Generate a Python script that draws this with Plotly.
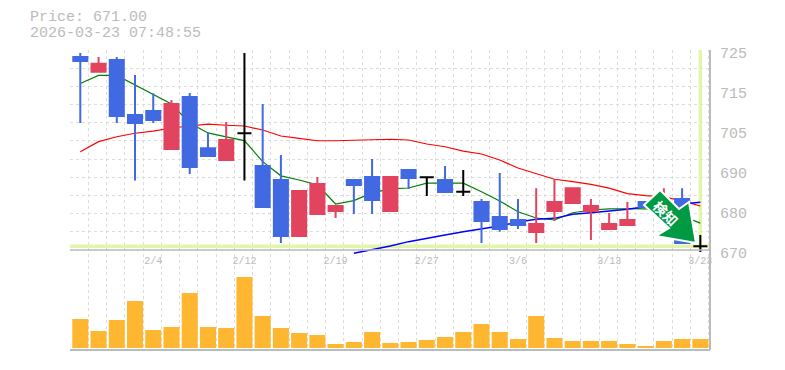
import plotly.graph_objects as go

# --- data ---
price_label = "Price: 671.00"
time_label = "2026-03-23 07:48:55"
arrow_label = "検知"
idx = list(range(35))
opens = [723.1,719.0,722.25,707.1,708.2,697.8,712.1,698.0,694.75,702.1,693.1,689.25,673.85,679.9,680.7,689.25,690.1,680.7,692.0,690.0,689.25,686.0,683.2,679.1,678.25,674.95,680.7,682.9,680.7,675.8,676.9,683.2,680.7,684.0,671.0]
highs = [724.2,723.1,723.1,718.1,713.1,711.25,713.2,702.2,705.2,724.2,710.15,696.1,686.2,690.1,682.1,689.25,695.0,690.1,692.0,690.0,693.1,692.0,684.0,691.2,684.0,687.0,689.5,687.0,684.0,680.2,683.2,683.2,687.0,687.0,674.1]
lows = [704.9,719.0,704.9,689.1,704.9,697.8,690.9,695.85,694.75,689.1,681.8,671.9,673.85,679.9,678.8,679.9,679.9,680.7,686.8,684.85,685.95,684.85,671.9,675.0,675.8,671.9,678.0,682.9,672.75,675.8,676.9,681.8,680.7,671.9,669.45]
closes = [722.0,721.2,706.85,704.9,705.75,710.15,692.8,695.85,700.25,702.1,681.8,673.85,686.2,688.15,682.1,687.9,683.75,690.1,689.8,690.0,685.95,686.0,678.0,675.8,676.9,677.15,683.2,687.0,682.1,677.15,678.25,681.8,683.0,671.9,671.0]
ma_short = [715.8,718,718,715.4,712.6,710.15,704.9,702.2,701.1,700.1,694.3,690.4,689.25,687.9,682.65,683.6,685.7,686.8,687.05,688.4,688.4,688.4,686,683.5,680.5,678.8,678.25,680.25,681,681.3,681.35,681.3,681,679.35,677.4]
ma_mid = [697,699.8,701.15,702.1,702.7,703.55,704.1,704.6,704.3,704.1,703,701.35,700.7,700.05,700.05,700.25,700.25,700.45,700.25,699.15,698.4,697.2,696.4,694.75,692.55,690.9,689.45,688.8,688.05,687,685.5,684.95,684.6,683.5,682.1]
ma_long = [None]*15 + [669.1,670,671.1,672.3,673.3,674.1,675,675.85,676.6,677.7,678.45,678.7,679.8,680.25,680.7,681.2,681.9,682.4,682.65,683.1]
volumes = [29,17,28,47,18,21,55,21,20,71,32,20,15,13,4,6,16,5,6,8,11,16,24,16,9,32,10,7,7,7,4,2,7,9,9]
date_pos = [4,9,14,19,24,29,34]
date_text = ["2/4","2/12","2/19","2/27","3/6","3/13","3/23"]
price_ticks = [670,681,692,703,714,725]
price_text = ["670","680","690","705","715","725"]
last_price = 671
grid_prices = list(range(670,730,5))
grid_slots = [i-0.55 for i in range(36)]

# --- style ---
BLUE="#4169E1"; RED="#E2435F"; AMBER="#FFB732"; PALE="#E2F6A9"; GRID="#dddddd"; TXT="#bbbbbb"
MONO="Liberation Mono"

fig = go.Figure()
xr = [-0.565, 34.53]

fig.add_trace(go.Scatter(x=[xr[0],xr[1]],y=[last_price,last_price],mode="lines",line=dict(color=PALE,width=3.5),hoverinfo="skip",zorder=-2))
fig.add_trace(go.Scatter(x=[idx[-1],idx[-1]],y=[last_price-1.1,725],mode="lines",line=dict(color=PALE,width=3.5),hoverinfo="skip",zorder=-2))
fig.add_trace(go.Scatter(x=idx,y=ma_mid,mode="lines",line=dict(color="#ff0000",width=1.2),zorder=-1))
fig.add_trace(go.Scatter(x=idx,y=ma_short,mode="lines",line=dict(color="#008000",width=1.2),zorder=-1))
fig.add_trace(go.Scatter(x=idx,y=ma_long,mode="lines",line=dict(color="#0000ff",width=1.5),zorder=-1))

normal=[i for i in idx if opens[i]!=closes[i]]
doji=[i for i in idx if opens[i]==closes[i]]
fig.add_trace(go.Candlestick(x=normal,open=[opens[i] for i in normal],high=[highs[i] for i in normal],low=[lows[i] for i in normal],close=[closes[i] for i in normal],
    increasing=dict(line=dict(color=RED,width=2),fillcolor=RED),decreasing=dict(line=dict(color=BLUE,width=2),fillcolor=BLUE),whiskerwidth=0))
fig.add_trace(go.Candlestick(x=doji,open=[opens[i] for i in doji],high=[highs[i] for i in doji],low=[lows[i] for i in doji],close=[closes[i] for i in doji],
    increasing=dict(line=dict(color="#000000",width=2),fillcolor="#000000"),decreasing=dict(line=dict(color="#000000",width=2),fillcolor="#000000"),whiskerwidth=0))
fig.add_trace(go.Bar(x=idx,y=volumes,marker=dict(color=AMBER,line=dict(width=0)),xaxis="x2",yaxis="y2"))

def X(p): return (p-70)/640
def Y(p): return (350-p)/300
arrow_px=[(660,190),(644,205),(669,228),(656,236),(696,243),(689,202),(679,209)]
path="M "+" L ".join(f"{X(a):.4f} {Y(b):.4f}" for a,b in arrow_px)+" Z"

minor_x=dict(tickmode="array",tickvals=grid_slots,showgrid=True,gridcolor=GRID,griddash="3px,3px",gridwidth=1,ticks="")
fig.update_layout(
    width=785,height=370,autosize=False,showlegend=False,template=None,
    paper_bgcolor="white",plot_bgcolor="white",
    margin=dict(l=62,r=83,t=42,b=28),
    boxgap=0.23,boxgroupgap=0,boxmode="overlay",bargap=0.12,
    font=dict(family=MONO,color=TXT),
    xaxis=dict(domain=[0,1],anchor="y",range=xr,showgrid=False,showline=False,zeroline=False,showticklabels=False,ticks="",
        tickmode="array",tickvals=date_pos,minor=minor_x,rangeslider=dict(visible=False)),
    xaxis2=dict(domain=[0,1],anchor="y2",range=xr,showgrid=False,showline=False,zeroline=False,side="top",ticklabelposition="inside",ticklabeloverflow="allow",ticks="",
        tickmode="array",tickvals=date_pos,ticktext=date_text,tickfont=dict(size=10,color=TXT,family=MONO),minor=minor_x),
    yaxis=dict(domain=[0.32,1],anchor="x",range=[668.9,725],side="right",showgrid=False,showline=False,zeroline=False,ticks="",
        tickmode="array",tickvals=price_ticks,ticktext=price_text,tickfont=dict(size=15,color=TXT,family=MONO),
        ticklabelshift=3,ticklabelstandoff=9,
        minor=dict(tickmode="array",tickvals=grid_prices,showgrid=True,gridcolor=GRID,griddash="3px,3px",gridwidth=1,ticks="")),
    yaxis2=dict(domain=[0,0.32],anchor="x2",range=[-2,94],showgrid=False,showline=False,zeroline=False,showticklabels=False,ticks=""),
    shapes=[
        dict(type="line",xref="paper",yref="paper",x0=0,x1=1,y0=0,y1=0,line=dict(color=TXT,width=2)),
        dict(type="line",xref="paper",yref="paper",x0=1,x1=1,y0=0,y1=1,line=dict(color=TXT,width=2)),
        dict(type="line",xref="paper",yref="y",x0=0,x1=1,y0=670,y1=670,line=dict(color=TXT,width=1.5)),
        dict(type="path",xref="paper",yref="paper",path=path,fillcolor="#009944",line=dict(color="white",width=2),layer="above"),
    ],
    annotations=[
        dict(xref="paper",yref="paper",x=X(28),y=Y(18),xanchor="left",yanchor="middle",text=price_label,showarrow=False,font=dict(size=15,color=TXT,family=MONO)),
        dict(xref="paper",yref="paper",x=X(28),y=Y(33),xanchor="left",yanchor="middle",text=time_label,showarrow=False,font=dict(size=15,color=TXT,family=MONO)),
        dict(xref="paper",yref="paper",x=X(666),y=Y(213),xanchor="center",yanchor="middle",text="<b>"+arrow_label+"</b>",textangle=45,showarrow=False,font=dict(size=14,color="white",family="Noto Sans CJK JP")),
    ],
)
fig.write_html("out.html")
